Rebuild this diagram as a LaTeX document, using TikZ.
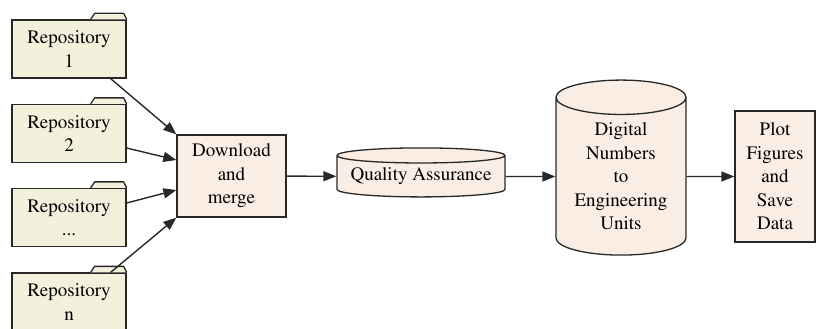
\documentclass[tikz,border=0pt]{standalone}
\usepackage[T1]{fontenc}
\usepackage{times}
\usetikzlibrary{shapes.geometric,arrows.meta,calc}
\definecolor{repofill}{RGB}{243,240,220}
\definecolor{procfill}{RGB}{250,238,228}
\definecolor{edgecol}{RGB}{40,40,40}
\begin{document}
\begin{tikzpicture}[x=1pt, y=-1pt,
          every node/.style = {align=center, inner sep=0pt, font=\rmfamily\fontsize{19}{23.5}\selectfont},
          repo/.style = {rectangle, draw=edgecol, fill=repofill, line width=1.3pt, minimum width=114pt, minimum height=58pt},
          proc/.style = {rectangle, draw=edgecol, fill=procfill, line width=1.3pt},
          store/.style = {cylinder, shape border rotate=90, draw=edgecol, fill=procfill, line width=1.3pt},
          tab/.style = {draw=edgecol, fill=repofill, line width=1.3pt, line join=round},
          link/.style = {draw=edgecol, line width=1.4pt, -{Triangle[length=13pt, width=10pt]}}]
  \useasboundingbox (0,0) rectangle (816,329);
  \clip (0,0) rectangle (816,329);
  % sources
  \node[repo] (repoA) at (69,49) {Repository\\1};
  \node[repo] (repoB) at (69,133.5) {Repository\\2};
  \node[repo] (repoC) at (69,217.5) {Repository\\...};
  \node[repo] (repoD) at (69,302) {Repository\\n};
  \foreach \r in {repoA,repoB,repoC,repoD}
    \path[tab] ($(\r.north east)+(-36,0)$) -- ++(4,-6) -- ++(29,0) -- ++(3,6);
  % processing chain
  \node[proc, minimum width=109pt, minimum height=82pt] (dl) at (231.5,176) {Download\\and\\merge};
  \node[store, minimum width=168pt, minimum height=49pt, aspect=0.107] (qa) at (421,176.5) {Quality Assurance};
  \node[store, minimum width=130pt, minimum height=175pt, aspect=0.37] (dn) at (621,176.5) {Digital\\Numbers\\to\\Engineering\\Units};
  \node[proc, minimum width=80pt, minimum height=131pt] (plot) at (775,176.5) {Plot\\Figures\\and\\Save\\Data};
  % edges
  \path[link] ($(repoA.south east)+(-16,0)$) -- (dl.north west);
  \path[link] ($(repoB.east)+(0,14.5)$) -- ($(dl.west)+(0,-16)$);
  \path[link] ($(repoC.east)+(0,-14.5)$) -- ($(dl.west)+(0,14)$);
  \path[link] ($(repoD.north east)+(-16,0)$) -- (dl.south west);
  \path[link] (dl) -- (qa);
  \path[link] (qa) -- (dn);
  \path[link] (dn) -- (plot);
\end{tikzpicture}
\end{document}
